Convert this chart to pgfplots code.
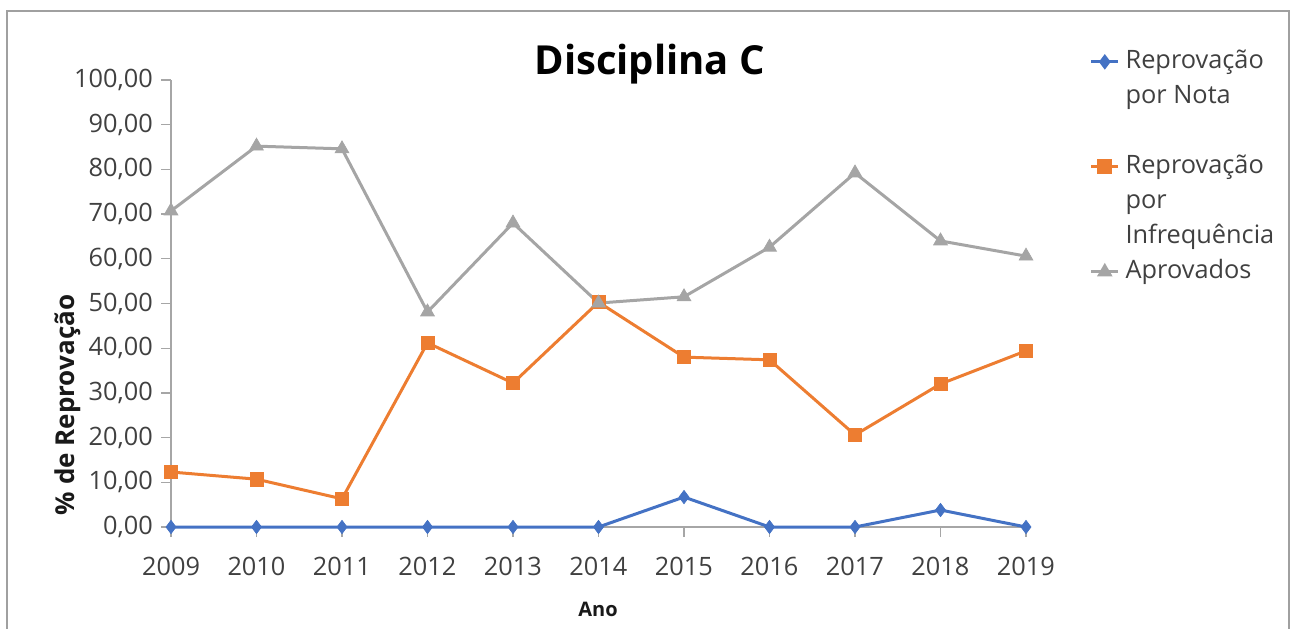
\documentclass[border=0pt]{standalone}
\usepackage{fontspec}
\setmainfont{Open Sans}
\usepackage{pgfplots}
\pgfplotsset{compat=1.18}
\definecolor{cblue}{HTML}{4472C4}
\definecolor{corange}{HTML}{ED7D31}
\definecolor{cgray}{HTML}{A5A5A5}
\definecolor{ctext}{HTML}{404040}
\definecolor{caxis}{HTML}{A6A6A6}
\definecolor{cframe}{HTML}{A0A0A0}
\begin{document}
\begin{tikzpicture}
\useasboundingbox (0pt,0pt) rectangle (968.25pt,471pt);
\draw[cframe, line width=1.5pt] (5.25pt,462.75pt) rectangle (966.75pt,-20pt);
\begin{axis}[
  at={(128.25pt,75.75pt)}, anchor=south west,
  scale only axis, width=641.25pt, height=335.25pt,
  xmin=2009, xmax=2019, ymin=0, ymax=100,
  clip=false,
  axis lines*=left,
  axis line style={caxis, line width=1.1pt},
  tick align=outside, major tick length=7.5pt,
  tick style={caxis, line width=1pt},
  xtick={2009,...,2019}, ytick={0,10,...,100},
  /pgf/number format/assume math mode=true,
  xticklabel={\pgfmathprintnumber[1000 sep={},fixed,precision=0]{\tick}},
  yticklabel={\pgfmathprintnumber[fixed,fixed zerofill,precision=2,use comma]{\tick}},
  ticklabel style={font=\fontsize{19}{22}\selectfont, text=ctext},
  xticklabel style={anchor=base, inner sep=0pt, yshift=-28.5pt},
  yticklabel style={anchor=east, inner sep=0pt, xshift=-6pt},
  title={Disciplina C},
  title style={at={(axis description cs:0.56,0.9933)}, anchor=base, font=\bfseries\fontsize{30}{34}\selectfont, text=black, inner sep=0pt},
  xlabel={Ano},
  xlabel style={at={(axis description cs:0.4994,-0.2006)}, anchor=base, font=\bfseries\fontsize{15}{18}\selectfont, text=black!90, inner sep=0pt},
  ylabel={\% de Reprovação},
  ylabel style={at={(axis description cs:-0.1205,0.273)}, anchor=center, font=\bfseries\fontsize{19.5}{22}\selectfont, text=black!90, inner sep=0pt},
  legend cell align=left,
  legend style={at={(axis description cs:1.0698,1.0747)}, anchor=north west, draw=none, fill=none,
    font=\fontsize{19}{22}\selectfont, text=ctext, row sep=7.75pt, column sep=4.5pt,
    nodes={inner sep=0pt, text height=14pt, text depth=4.5pt}},
  legend image code/.code={\draw[mark repeat=2,mark phase=2] plot coordinates {(0pt,0pt) (10pt,0pt) (20pt,0pt)};},
]
\addplot[cblue, line width=2.25pt, mark=diamond*, mark size=5pt, mark options={solid, fill=cblue, draw=cblue, line width=0.5pt}, forget plot]
coordinates {(2009,0) (2010,0) (2011,0) (2012,0) (2013,0) (2014,0) (2015,6.7) (2016,0) (2017,0) (2018,3.8) (2019,0)};
\addplot[corange, line width=2.25pt, mark=square*, mark size=5pt, mark options={solid, fill=corange, draw=corange, line width=0.5pt}, forget plot]
coordinates {(2009,12.3) (2010,10.7) (2011,6.3) (2012,41.2) (2013,32.2) (2014,50.3) (2015,38.0) (2016,37.4) (2017,20.6) (2018,32.0) (2019,39.4)};
\addplot[cgray, line width=2.25pt, mark=triangle*, mark size=6pt, mark options={solid, fill=cgray, draw=cgray, line width=0.5pt}, forget plot]
coordinates {(2009,70.7) (2010,85.2) (2011,84.6) (2012,48.1) (2013,68.0) (2014,50.1) (2015,51.5) (2016,62.6) (2017,79.2) (2018,64.0) (2019,60.6)};
\addlegendimage{cblue, line width=2.25pt, mark=diamond*, mark size=4pt, mark options={solid, fill=cblue, draw=cblue}}
\addlegendentry{Reprovação}
\addlegendimage{empty legend}
\addlegendentry{por Nota}
\addlegendimage{empty legend}
\addlegendentry{}
\addlegendimage{corange, line width=2.25pt, mark=square*, mark size=4.5pt, mark options={solid, fill=corange, draw=corange}}
\addlegendentry{Reprovação}
\addlegendimage{empty legend}
\addlegendentry{por}
\addlegendimage{empty legend}
\addlegendentry{Infrequência}
\addlegendimage{cgray, line width=2.25pt, mark=triangle*, mark size=4.5pt, mark options={solid, fill=cgray, draw=cgray}}
\addlegendentry{Aprovados}
\end{axis}
\end{tikzpicture}
\end{document}
